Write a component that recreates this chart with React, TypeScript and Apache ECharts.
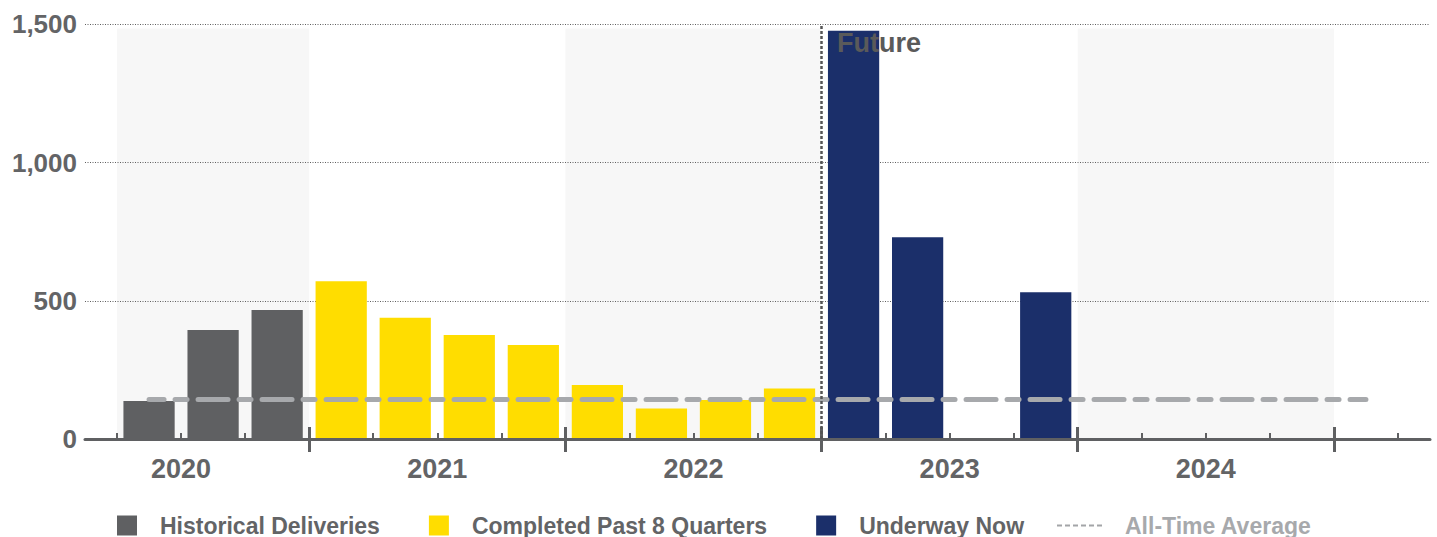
import React, { useEffect, useRef } from "react";
import * as echarts from "echarts";

// Quarter categories (bar positions)
const QUARTERS = [
  "2020 Q1", "2020 Q2", "2020 Q3", "2020 Q4",
  "2021 Q1", "2021 Q2", "2021 Q3", "2021 Q4",
  "2022 Q1", "2022 Q2", "2022 Q3", "2022 Q4",
  "2023 Q1", "2023 Q2", "2023 Q3", "2023 Q4",
  "2024 Q1", "2024 Q2", "2024 Q3", "2024 Q4",
  "2025 Q1", "2025 Q2",
];

// Boundaries between quarters (tick positions)
const BOUNDARIES = [
  "2020 Q1|Q2", "2020 Q2|Q3", "2020 Q3|Q4", "2020|2021",
  "2021 Q1|Q2", "2021 Q2|Q3", "2021 Q3|Q4", "2021|2022",
  "2022 Q1|Q2", "2022 Q2|Q3", "2022 Q3|Q4", "2022|2023",
  "2023 Q1|Q2", "2023 Q2|Q3", "2023 Q3|Q4", "2023|2024",
  "2024 Q1|Q2", "2024 Q2|Q3", "2024 Q3|Q4", "2024|2025",
  "2025 Q1|Q2",
];

const YEAR_LABELS = ["2020", "2021", "2022", "2023", "2024"];
const YEAR_LABEL_AT = ["2020 Q2|Q3", "2021 Q2|Q3", "2022 Q2|Q3", "2023 Q2|Q3", "2024 Q2|Q3"];
const YEAR_BOUNDARIES = ["2020|2021", "2021|2022", "2022|2023", "2023|2024", "2024|2025"];

const SHADED_FROM = ["2020 Q1|Q2", "2021|2022", "2023|2024"];
const SHADED_TO = ["2020|2021", "2022|2023", "2024|2025"];

const FUTURE_AT = "2022|2023";

const HISTORICAL_Q = ["2020 Q2", "2020 Q3", "2020 Q4"];
const HISTORICAL_V = [137, 394, 467];

const COMPLETED_Q = ["2021 Q1", "2021 Q2", "2021 Q3", "2021 Q4", "2022 Q1", "2022 Q2", "2022 Q3", "2022 Q4"];
const COMPLETED_V = [571, 439, 376, 340, 195, 110, 141, 183];

const UNDERWAY_Q = ["2023 Q1", "2023 Q2", "2023 Q4"];
const UNDERWAY_V = [1477, 730, 531];

const AVERAGE_Q = ["2020 Q2", "2025 Q1"];
const AVERAGE_V = 143;

const Y_TICKS = [0, 500, 1000, 1500];

const TEXT = "#636466";

export default function App() {
  const ref = useRef<HTMLDivElement>(null);

  useEffect(() => {
    if (!ref.current) return;
    const chart = echarts.init(ref.current, undefined, { renderer: "svg" });
    const font = "Arial, 'Liberation Sans', Helvetica, sans-serif";
    const pair = (qs: string[], vs: number[]) => qs.map((q, i) => [q, vs[i]]);

    const option: any = {
      animation: false,
      textStyle: { fontFamily: font },
      grid: { left: 85, right: 7, top: 24.3, bottom: 98, containLabel: false },
      legend: [
        {
          data: ["Historical Deliveries", "Completed Past 8 Quarters", "Underway Now"],
          left: 117,
          top: 514,
          padding: 0,
          icon: "rect",
          itemWidth: 20,
          itemHeight: 20,
          itemGap: 49,
          selectedMode: false,
          textStyle: { fontSize: 23, fontWeight: "bold", color: TEXT, fontFamily: font, padding: [0, 0, 0, 18] },
        },
        {
          data: [
            {
              name: "All-Time Average",
              icon: "path://M0,0h5v2h-5z M8,0h5v2h-5z M16,0h5v2h-5z M24,0h5v2h-5z M32,0h5v2h-5z M40,0h5v2h-5z",
            },
          ],
          left: 1057,
          top: 514,
          padding: 0,
          itemWidth: 45,
          itemHeight: 2,
          selectedMode: false,
          itemStyle: { color: "#a3a5a8", borderWidth: 0 },
          lineStyle: { width: 0 },
          textStyle: { fontSize: 23, fontWeight: "bold", color: "#a7a9ac", fontFamily: font, padding: [0, 0, 0, 18] },
        },
      ],
      xAxis: [
        {
          type: "category",
          data: QUARTERS,
          boundaryGap: false,
          position: "bottom",
          z: 5,
          axisLine: { show: true, lineStyle: { color: "#5f6062", width: 3 } },
          axisTick: { show: false },
          axisLabel: { show: false },
          splitLine: { show: false },
        },
        {
          type: "category",
          data: BOUNDARIES,
          boundaryGap: true,
          position: "bottom",
          z: 5,
          axisLine: { show: false },
          axisTick: {
            show: true,
            alignWithLabel: true,
            inside: true,
            length: 6,
            interval: (_i: number, v: string) => YEAR_BOUNDARIES.indexOf(v) < 0,
            lineStyle: { color: "#5f6062", width: 2 },
          },
          axisLabel: {
            show: true,
            interval: 0,
            margin: 16,
            fontSize: 27,
            fontWeight: "bold",
            color: TEXT,
            fontFamily: font,
            formatter: (v: string) => {
              const k = YEAR_LABEL_AT.indexOf(v);
              return k >= 0 ? YEAR_LABELS[k] : "";
            },
          },
          splitLine: { show: false },
        },
        {
          type: "category",
          data: BOUNDARIES,
          boundaryGap: true,
          position: "bottom",
          z: 5,
          axisLine: { show: false },
          axisTick: {
            show: true,
            alignWithLabel: true,
            inside: true,
            length: 12,
            interval: (_i: number, v: string) => YEAR_BOUNDARIES.indexOf(v) >= 0,
            lineStyle: { color: "#5f6062", width: 3 },
          },
          axisLabel: { show: false },
          splitLine: { show: false },
        },
        {
          type: "category",
          data: BOUNDARIES,
          boundaryGap: true,
          position: "bottom",
          z: 5,
          axisLine: { show: false },
          axisTick: {
            show: true,
            alignWithLabel: true,
            inside: false,
            length: 13,
            interval: (_i: number, v: string) => YEAR_BOUNDARIES.indexOf(v) >= 0,
            lineStyle: { color: "#5f6062", width: 3 },
          },
          axisLabel: { show: false },
          splitLine: { show: false },
        },
      ],
      yAxis: {
        type: "value",
        min: Y_TICKS[0],
        max: Y_TICKS[Y_TICKS.length - 1],
        interval: 500,
        z: 2,
        axisLine: { show: false },
        axisTick: { show: false },
        axisLabel: {
          margin: 8,
          fontSize: 26,
          fontWeight: "bold",
          color: TEXT,
          fontFamily: font,
          formatter: (v: number) => (v === 0 ? "0" : v.toLocaleString("en-US")),
        },
        splitLine: { show: true, lineStyle: { type: [1, 1.5], color: "#5f5f5f", width: 1 } },
      },
      series: [
        {
          name: "markers",
          type: "line",
          xAxisIndex: 1,
          data: [],
          z: 1,
          silent: true,
          markArea: {
            silent: true,
            z: 1,
            itemStyle: { color: "#f7f7f7" },
            data: SHADED_FROM.map((f, i) => [
              { xAxis: f, yAxis: 0 },
              { xAxis: SHADED_TO[i], yAxis: 1485 },
            ]),
          },
          markLine: {
            silent: true,
            z: 6,
            symbol: ["none", "none"],
            label: { show: false },
            lineStyle: { type: [3, 2], color: "#555555", width: 2.5 },
            data: [{ xAxis: FUTURE_AT }],
          },
          markPoint: {
            silent: true,
            z: 7,
            symbol: "rect",
            symbolSize: 1,
            itemStyle: { color: "rgba(0,0,0,0)" },
            label: {
              show: true,
              formatter: "Future",
              position: "right",
              distance: 0,
              offset: [15, 19],
              fontSize: 27,
              fontWeight: "bold",
              color: "#5a5a5a",
              fontFamily: font,
            },
            data: [{ coord: [FUTURE_AT, Y_TICKS[Y_TICKS.length - 1]] }],
          },
        },
        {
          name: "Historical Deliveries",
          type: "bar",
          xAxisIndex: 0,
          stack: "all",
          barWidth: "80%",
          z: 3,
          itemStyle: { color: "#5f6062" },
          data: pair(HISTORICAL_Q, HISTORICAL_V),
        },
        {
          name: "Completed Past 8 Quarters",
          type: "bar",
          xAxisIndex: 0,
          stack: "all",
          barWidth: "80%",
          z: 3,
          itemStyle: { color: "#ffdd00" },
          data: pair(COMPLETED_Q, COMPLETED_V),
        },
        {
          name: "Underway Now",
          type: "bar",
          xAxisIndex: 0,
          stack: "all",
          barWidth: "80%",
          z: 3,
          itemStyle: { color: "#1b2f6a" },
          data: pair(UNDERWAY_Q, UNDERWAY_V),
        },
        {
          name: "All-Time Average",
          type: "line",
          xAxisIndex: 0,
          z: 4,
          symbol: "none",
          silent: true,
          itemStyle: { color: "#a7a9ac" },
          lineStyle: { color: "#a7a9ac", width: 5, type: [30, 11, 12, 11], dashOffset: 15, cap: "round" },
          data: AVERAGE_Q.map((q) => [q, AVERAGE_V]),
        },
      ],
    };

    chart.setOption(option);
    return () => chart.dispose();
  }, []);

  return (
    <div
      ref={ref}
      style={{ position: "absolute", left: 0, top: 0, width: 1437, height: 537, background: "#ffffff" }}
    />
  );
}
